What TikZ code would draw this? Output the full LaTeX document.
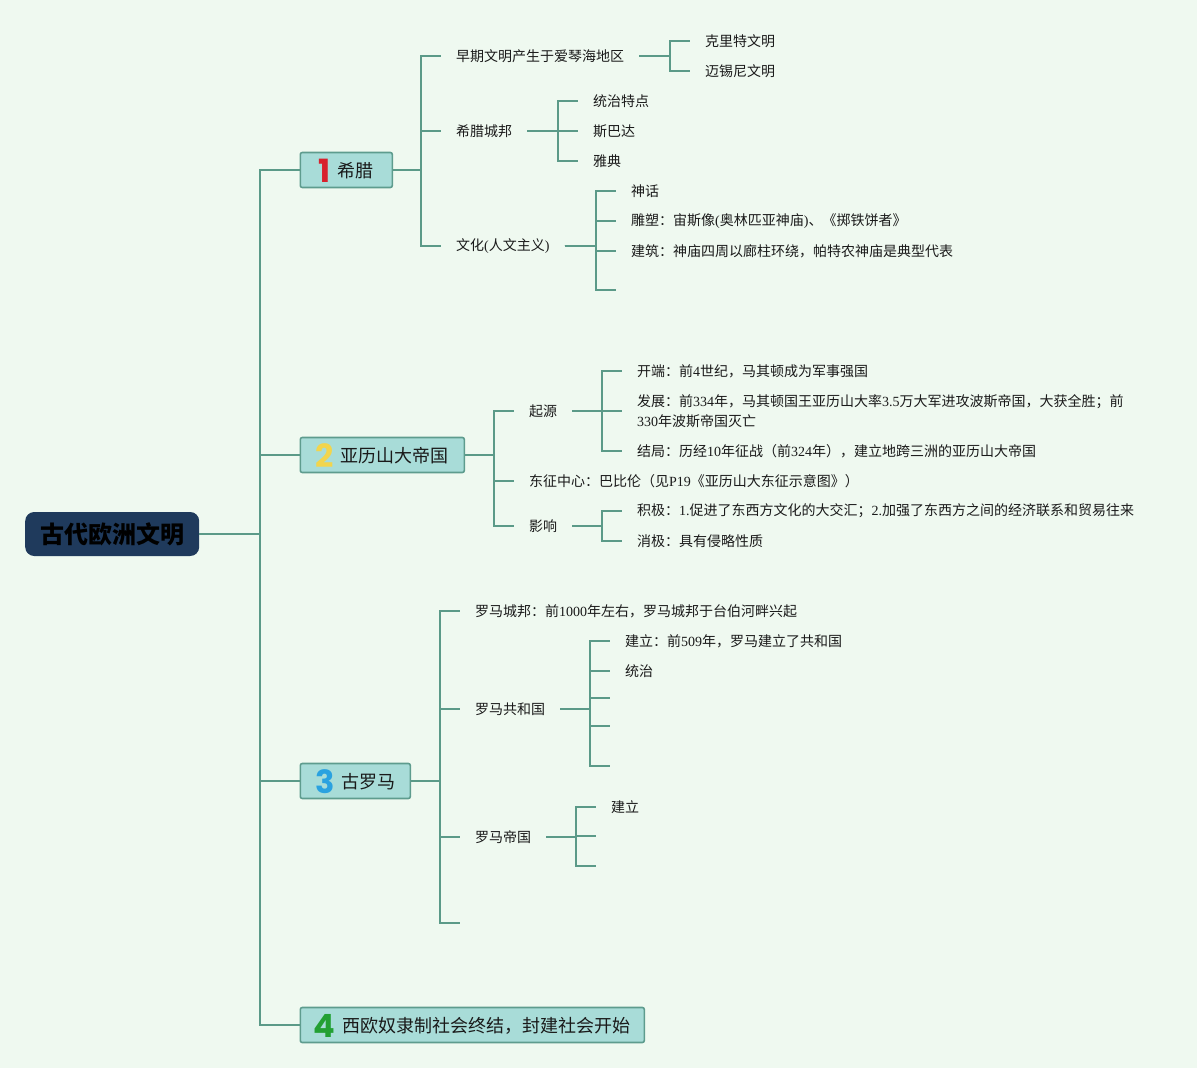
\documentclass[tikz,border=0pt]{standalone}
\usepackage{fontspec}
\setmainfont{Liberation Serif}
\newfontfamily\cjk{Noto Sans CJK SC}
\newfontfamily\latf{Liberation Serif}
\newfontfamily\numf{Poppins}
\newcommand\LT[1]{{\latf #1}}
\newcommand\bnum[2]{\raisebox{-4.5pt}{\numf\bfseries\fontsize{32}{32}\selectfont\color{#1}#2}}
\definecolor{bgc}{HTML}{EFF9F0}
\definecolor{linec}{HTML}{5B9A88}
\definecolor{boxfill}{HTML}{A8DCD8}
\definecolor{boxline}{HTML}{5E9C8E}
\definecolor{rootc}{HTML}{1F3A5C}
\definecolor{txtc}{HTML}{1A1A1A}
\definecolor{nred}{HTML}{D8202C}
\definecolor{nyellow}{HTML}{F2D54C}
\definecolor{nblue}{HTML}{2AA2E0}
\definecolor{ngreen}{HTML}{23A033}
\newcommand\elb[2]{\draw[conn] (#1.east) -| ([xshift=-20pt]#2.west) -- (#2.west);}
\newcommand\elbc[2]{\draw[conn] (#1.east) -| ([xshift=-20pt]#2) -- (#2);}
\begin{document}
\begin{tikzpicture}[x=1pt,y=-1pt,
  conn/.style={draw=linec,line width=2pt},
  lbl/.style={anchor=west,inner xsep=15pt,inner ysep=2pt,font=\cjk\fontsize{14}{20}\selectfont,text=txtc,align=left,yshift=-1pt},
  branch/.style={draw=boxline,fill=boxfill,line width=1.6pt,rounded corners=2pt,minimum height=35pt,text height=20pt,text depth=5pt,anchor=west,font=\cjk\fontsize{18}{22}\selectfont,text=txtc,inner xsep=4pt,inner ysep=1pt},
  rootbox/.style={fill=rootc,rounded corners=9pt,minimum width=174pt,minimum height=44pt,anchor=west,font=\cjk\bfseries\fontsize{24}{28}\selectfont,text=black,inner sep=0pt}]
\fill[bgc] (0,0) rectangle (1197,1068);
\useasboundingbox (0,0) rectangle (1197,1068);

% root and branches
\node[rootbox] (root) at (25,534) {古代欧洲文明};
\node[branch,minimum width=92pt] (b1) at (299.5,170) {\bnum{nred}{1}\hspace{7pt}希腊};
\node[branch,minimum width=164pt] (b2) at (299.5,455) {\bnum{nyellow}{2}\hspace{7pt}亚历山大帝国};
\node[branch,minimum width=110pt] (b3) at (299.5,781) {\bnum{nblue}{3}\hspace{7pt}古罗马};
\node[branch,minimum width=344pt] (b4) at (299.5,1025) {\bnum{ngreen}{4}\hspace{7pt}西欧奴隶制社会终结，封建社会开始};
\foreach \b in {b1,b2,b3,b4} {\draw[conn] (root.east) -| ([xshift=-40pt]\b.west) -- (\b.west);}

% branch 1
\node[lbl] (k11) at (441,55) {早期文明产生于爱琴海地区};
\node[lbl] (k12) at (441,130) {希腊城邦};
\node[lbl] (k13) at (441,245) {文化\LT{(}人文主义\LT{)}};
\node[lbl] (k111) at (690,40) {克里特文明};
\node[lbl] (k112) at (690,70) {迈锡尼文明};
\node[lbl] (k121) at (578,100) {统治特点};
\node[lbl] (k122) at (578,130) {斯巴达};
\node[lbl] (k123) at (578,160) {雅典};
\node[lbl] (k131) at (616,190) {神话};
\node[lbl] (k132) at (616,220) {雕塑：宙斯像\LT{(}奥林匹亚神庙\LT{)}、《掷铁饼者》};
\node[lbl] (k133) at (616,250) {建筑：神庙四周以廊柱环绕，帕特农神庙是典型代表};
\coordinate (k134) at (616,290);
\elb{b1}{k11}\elb{b1}{k12}\elb{b1}{k13}
\elb{k11}{k111}\elb{k11}{k112}
\elb{k12}{k121}\elb{k12}{k122}\elb{k12}{k123}
\elb{k13}{k131}\elb{k13}{k132}\elb{k13}{k133}\elbc{k13}{k134}

% branch 2
\node[lbl] (k21) at (514,410) {起源};
\node[lbl] (k22) at (514,480) {东征中心：巴比伦（见\LT{P19}《亚历山大东征示意图》）};
\node[lbl] (k23) at (514,525) {影响};
\node[lbl] (k211) at (622,370) {开端：前\LT{4}世纪，马其顿成为军事强国};
\node[lbl] (k212) at (622,410) {发展：前\LT{334}年，马其顿国王亚历山大率\LT{3.5}万大军进攻波斯帝国，大获全胜；前\\\LT{330}年波斯帝国灭亡};
\node[lbl] (k213) at (622,450) {结局：历经\LT{10}年征战（前\LT{324}年），建立地跨三洲的亚历山大帝国};
\node[lbl] (k231) at (622,510) {积极：\LT{1.}促进了东西方文化的大交汇；\LT{2.}加强了东西方之间的经济联系和贸易往来};
\node[lbl] (k232) at (622,540) {消极：具有侵略性质};
\elb{b2}{k21}\elb{b2}{k22}\elb{b2}{k23}
\elb{k21}{k211}\elb{k21}{k212}\elb{k21}{k213}
\elb{k23}{k231}\elb{k23}{k232}

% branch 3
\node[lbl] (k31) at (460,610) {罗马城邦：前\LT{1000}年左右，罗马城邦于台伯河畔兴起};
\node[lbl] (k32) at (460,708) {罗马共和国};
\node[lbl] (k33) at (460,836) {罗马帝国};
\coordinate (k34) at (460,923);
\node[lbl] (k321) at (610,640) {建立：前\LT{509}年，罗马建立了共和国};
\node[lbl] (k322) at (610,670) {统治};
\coordinate (k323) at (610,698);
\coordinate (k324) at (610,726);
\coordinate (k325) at (610,766);
\node[lbl] (k331) at (596,806) {建立};
\coordinate (k332) at (596,836);
\coordinate (k333) at (596,866);
\elb{b3}{k31}\elb{b3}{k32}\elb{b3}{k33}\elbc{b3}{k34}
\elb{k32}{k321}\elb{k32}{k322}\elbc{k32}{k323}\elbc{k32}{k324}\elbc{k32}{k325}
\elb{k33}{k331}\elbc{k33}{k332}\elbc{k33}{k333}
\end{tikzpicture}
\end{document}
